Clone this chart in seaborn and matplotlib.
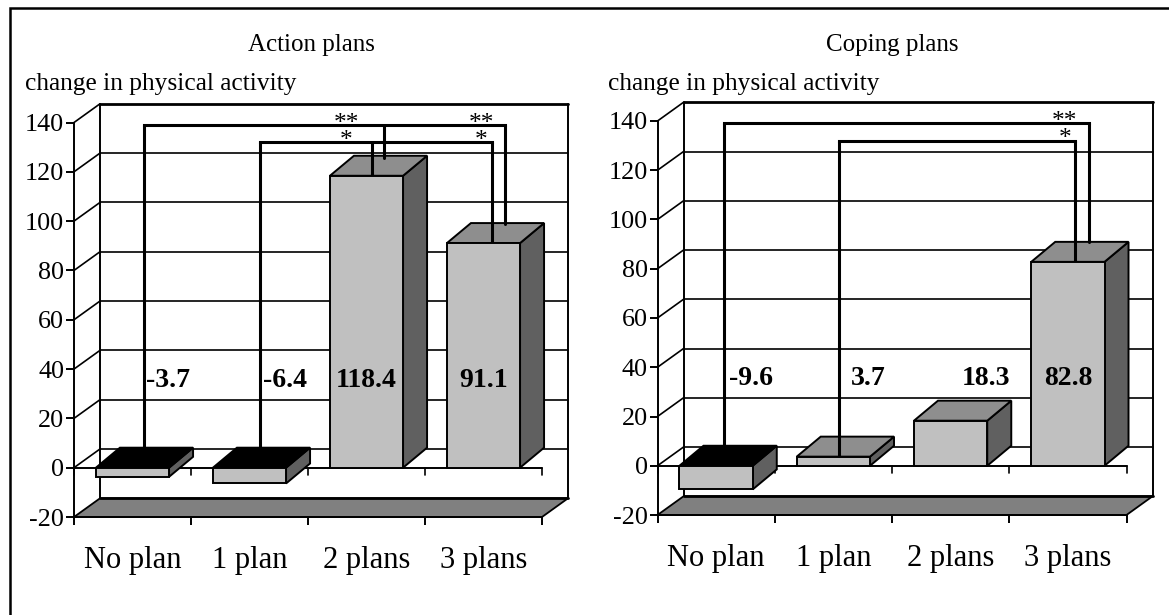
import matplotlib
matplotlib.use("Agg")
import matplotlib.pyplot as plt
from matplotlib.patches import Polygon, Rectangle
import pandas as pd
import seaborn as sns

categories = ["No plan", "1 plan", "2 plans", "3 plans"]
action_values = [-3.7, -6.4, 118.4, 91.1]
coping_values = [-9.6, 3.7, 18.3, 82.8]
y_ticks = [-20, 0, 20, 40, 60, 80, 100, 120, 140]
panel_titles = ["Action plans", "Coping plans"]
y_caption = "change in physical activity"

W, H = 1169, 615
FRONT = "#c0c0c0"
TOP = "#8e8e8e"
SIDE = "#606060"
FLOOR = "#808080"

sns.set_style("white")
plt.rcParams["font.family"] = ["Liberation Serif", "DejaVu Serif"]
plt.rcParams["axes.unicode_minus"] = False
plt.rcParams["text.color"] = "black"
plt.rcParams["xtick.color"] = "black"
plt.rcParams["ytick.color"] = "black"
FS = 18.3

fig = plt.figure(figsize=(W / 100, H / 100), dpi=100, facecolor="white")


def panel(box, values, title, title_x, caption_x, brackets, label_shift, stars):
    x0, y_top, x1, y_bot = box
    ax = fig.add_axes([x0 / W, 1 - y_bot / H, (x1 - x0) / W, (y_bot - y_top) / H])
    ax.patch.set_alpha(0)
    frame = pd.DataFrame({"plans": categories, "change": values})
    sns.barplot(data=frame, x="plans", y="change", color=FRONT, saturation=1,
                width=0.625, edgecolor="black", linewidth=1.4, ax=ax, zorder=6)
    ax.set_xlim(-0.5, 3.5)
    ax.set_ylim(-20, 140)
    ax.set_xlabel("")
    ax.set_ylabel("")
    px_x = (x1 - x0) / 4
    px_y = (y_bot - y_top) / 160
    wx, wy = 26 / px_x, 18.7 / px_y   # depth of the walls
    bx, by = 24 / px_x, 20 / px_y     # depth of the bars
    lw = 1.4

    # back wall + gridlines + side diagonals
    for t in y_ticks[1:]:
        ax.plot([-0.5, -0.5 + wx], [t, t + wy], color="black", lw=1.2, zorder=1, clip_on=False)
        ax.plot([-0.5 + wx, 3.5 + wx], [t + wy, t + wy], color="black",
                lw=2 if t == 140 else 1.2, zorder=1, clip_on=False)
    ax.plot([-0.5 + wx] * 2, [-20 + wy, 140 + wy], color="black", lw=lw, zorder=1, clip_on=False)
    ax.plot([3.5 + wx] * 2, [-20 + wy, 140 + wy], color="black", lw=lw, zorder=1, clip_on=False)

    # floor
    ax.add_patch(Polygon([(-0.5, -20), (-0.5 + wx, -20 + wy), (3.5 + wx, -20 + wy), (3.5, -20)],
                         closed=True, facecolor=FLOOR, edgecolor="black", lw=1.3, zorder=2, clip_on=False))
    ax.plot([-0.5 + wx, 3.5 + wx], [-20 + wy, -20 + wy], color="black", lw=2, zorder=2, clip_on=False)

    # zero line with its ticks
    ax.plot([-0.5, 3.5], [0, 0], color="black", lw=lw, zorder=3, clip_on=False)
    for k in range(5):
        ax.plot([k - 0.5, k - 0.5], [0, -7 / px_y], color="black", lw=1.2, zorder=3, clip_on=False)

    # 3-D faces of the bars
    hw = 0.625 / 2
    for i, v in enumerate(values):
        l, r = i - hw, i + hw
        low, high = min(v, 0), max(v, 0)
        ax.add_patch(Polygon([(r, low), (r + bx, low + by), (r + bx, high + by), (r, high)], closed=True,
                             facecolor=SIDE, edgecolor="black", lw=lw, zorder=4, clip_on=False))
        ax.add_patch(Polygon([(l, high), (l + bx, high + by), (r + bx, high + by), (r, high)], closed=True,
                             facecolor="black" if v < 0 else TOP, edgecolor="black", lw=lw, zorder=4, clip_on=False))

    # significance brackets
    for (xs, top, legs) in brackets:
        ax.plot([xs[0], xs[-1]], [top, top], color="black", lw=2.2, zorder=5, clip_on=False, solid_capstyle="projecting")
        for xv, yv in zip(xs, legs):
            ax.plot([xv, xv], [top, yv], color="black", lw=2.2, zorder=5, clip_on=False)
    for sx, sy, s in stars:
        ax.text(sx, sy, s, ha="center", va="center", fontsize=FS, linespacing=0.72, zorder=7)

    # value labels
    for i, v in enumerate(values):
        ax.text(i + label_shift[i], 35.5, f"{v:.1f}", ha="center", va="center",
                fontsize=20, fontweight="bold", zorder=8)

    # axes
    sns.despine(ax=ax, top=True, right=True, bottom=False, left=False)
    for s in ("left", "bottom"):
        ax.spines[s].set_linewidth(lw)
        ax.spines[s].set_color("black")
        ax.spines[s].set_zorder(3)
    ax.set_yticks(y_ticks)
    ax.set_xticks(range(4))
    ax.set_xticklabels(categories)
    ax.set_xticks([-0.5, 0.5, 1.5, 2.5, 3.5], minor=True)
    ax.tick_params(axis="y", length=6, width=lw, direction="out", left=True, labelsize=18.8, pad=1)
    ax.tick_params(axis="x", which="major", length=0, labelsize=22, pad=21)
    ax.tick_params(axis="x", which="minor", length=6, width=lw, direction="out", bottom=True)
    fig.text(title_x / W, 1 - 45 / H, title, ha="center", va="center", fontsize=18)
    fig.text(caption_x / W, 1 - 84 / H, y_caption, ha="left", va="center", fontsize=FS)
    return ax


panel((74, 122.5, 542, 517), action_values, panel_titles[0], 311, 25,
      brackets=[([0.1, 2.15, 3.18], 139, [7.5, 125.5, 99]),
                ([1.09, 2.05, 3.07], 132, [7.5, 118.4, 91.1])],
      label_shift=[0.3, 0.3, 0, 0],
      stars=[(1.83, 136, "**\n*"), (2.98, 136, "**\n*")])

panel((657.5, 121, 1126.5, 515), coping_values, panel_titles[1], 892, 608,
      brackets=[([0.07, 3.18], 139, [7.5, 91]),
                ([1.05, 3.06], 132, [3.7, 82.8])],
      label_shift=[0.3, 0.3, 0.3, 0],
      stars=[(2.975, 136, "**\n*")])

# outer frame
fig.add_artist(Rectangle((9.5 / W, -0.05), (W + 20) / W, 1 + 0.05 - 7.5 / H, transform=fig.transFigure,
                         fill=False, edgecolor="black", lw=1.8))

fig.savefig("out.png", dpi=100)
